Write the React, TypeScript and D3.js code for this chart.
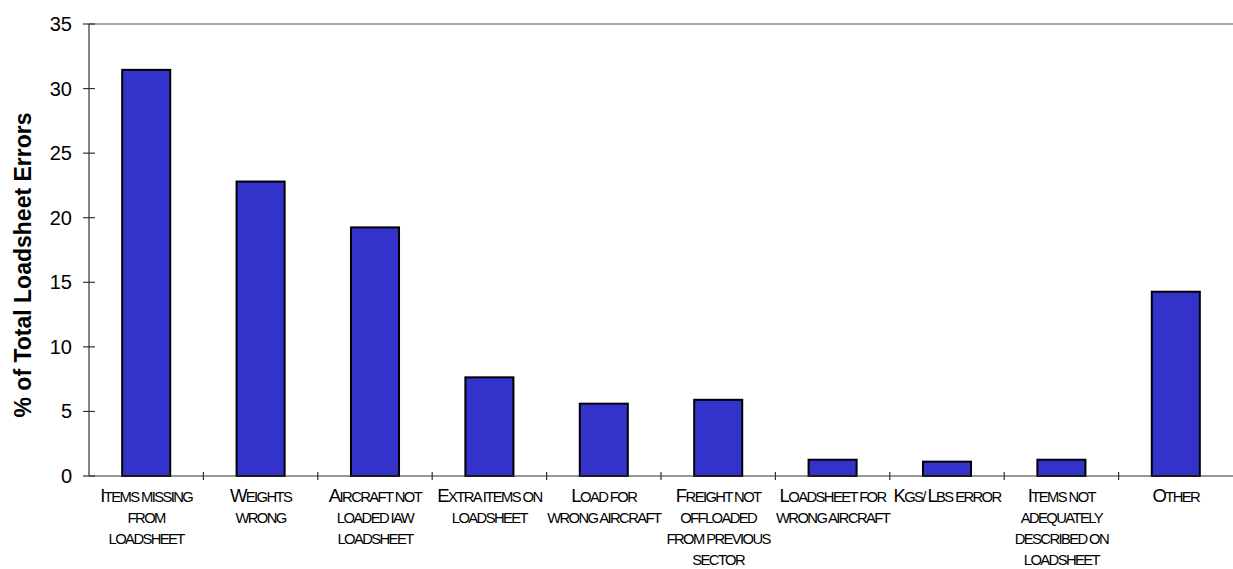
import React from 'react';
import * as d3 from 'd3';

// categories, as wrapped lines under each bar
const categoryLines: string[][] = [
  ['Items missing', 'from', 'loadsheet'],
  ['Weights', 'wrong'],
  ['Aircraft not', 'loaded iaw', 'loadsheet'],
  ['Extra items on', 'loadsheet'],
  ['Load for', 'wrong aircraft'],
  ['Freight not', 'offloaded', 'from previous', 'sector'],
  ['Loadsheet for', 'wrong aircraft'],
  ['Kgs/ Lbs error'],
  ['Items not', 'adequately', 'described on', 'loadsheet'],
  ['Other'],
];
const values = [31.45, 22.8, 19.25, 7.64, 5.6, 5.9, 1.26, 1.11, 1.26, 14.27];
const yTicks = [0, 5, 10, 15, 20, 25, 30, 35];
const yTitle = '% of Total Loadsheet Errors';

const W = 1233;
const H = 569;
const margin = { top: 24, right: 0, bottom: 93, left: 89 };
const FONT = 'Arial, "Liberation Sans", sans-serif';

// fake small caps: capitals at full size, lowercase as smaller capitals
const SmallCaps: React.FC<{ text: string; size: number }> = ({ text, size }) => {
  const parts: { s: string; big: boolean }[] = [];
  for (const ch of text) {
    const big = ch === ch.toUpperCase() && ch !== ch.toLowerCase();
    const last = parts[parts.length - 1];
    if (last && last.big === big) last.s += big ? ch : ch.toUpperCase();
    else parts.push({ s: big ? ch : ch.toUpperCase(), big });
  }
  return (
    <>
      {parts.map((p, i) => (
        <tspan key={i} fontSize={p.big ? size : size * 0.8}>{p.s}</tspan>
      ))}
    </>
  );
};

const App: React.FC = () => {
  const x = d3.scaleBand<number>()
    .domain(d3.range(values.length))
    .range([margin.left, W - margin.right])
    .paddingInner(0.58)
    .paddingOuter(0.29);
  const step = x.step();

  const y = d3.scaleLinear()
    .domain([0, 35])
    .range([H - margin.bottom, margin.top]);

  const y0 = y(0);

  return (
    <svg width={W} height={H} style={{ position: 'absolute', left: 0, top: 0, background: '#fff' }} fontFamily={FONT}>
      {/* top border line */}
      <line x1={margin.left} x2={W} y1={y(35)} y2={y(35)} stroke="#8c8c8c" strokeWidth={1.5} />

      {/* bars */}
      {values.map((v, i) => (
        <rect
          key={i}
          x={x(i)}
          y={y(v)}
          width={x.bandwidth()}
          height={y0 - y(v)}
          fill="#3333cc"
          stroke="#000"
          strokeWidth={2}
        />
      ))}

      {/* y axis */}
      <line x1={margin.left} x2={margin.left} y1={y(35)} y2={y0} stroke="#333" strokeWidth={1.2} />
      {yTicks.map(t => (
        <g key={t}>
          <line x1={margin.left - 6} x2={margin.left + 6} y1={y(t)} y2={y(t)} stroke="#333" strokeWidth={1.2} />
          <text x={72} y={y(t)} dy="0.35em" textAnchor="end" fontSize={20} fill="#000">{t}</text>
        </g>
      ))}

      {/* x axis */}
      <line x1={margin.left} x2={W} y1={y0} y2={y0} stroke="#333" strokeWidth={1.2} />
      {d3.range(1, values.length).map(i => {
        const tx = margin.left + step * i;
        return <line key={i} x1={tx} x2={tx} y1={y0 - 4} y2={y0 + 4} stroke="#333" strokeWidth={1.2} />;
      })}

      {/* category labels */}
      {categoryLines.map((lines, i) => {
        const cx = (x(i) ?? 0) + x.bandwidth() / 2;
        return (
          <text key={i} textAnchor="middle" fill="#000" letterSpacing={-1.6}>
            {lines.map((ln, j) => (
              <tspan key={j} x={cx} y={502 + j * 21}>
                <SmallCaps text={ln} size={18.5} />
              </tspan>
            ))}
          </text>
        );
      })}

      {/* y axis title */}
      <text
        transform={`translate(31,${(y(35) + y0) / 2 + 15}) rotate(-90)`}
        textAnchor="middle"
        fontSize={23}
        fontWeight="bold"
        fill="#000"
      >
        {yTitle}
      </text>
    </svg>
  );
};

export default App;
